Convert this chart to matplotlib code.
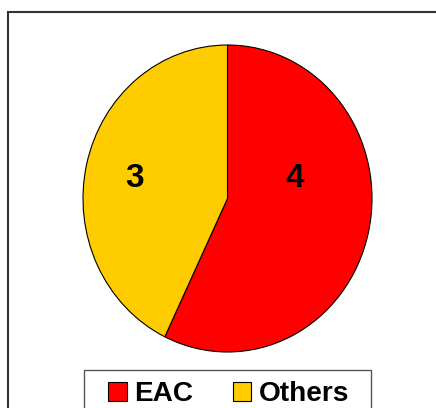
import matplotlib.pyplot as plt
from matplotlib.patches import Rectangle

plt.rcParams['font.family'] = ['Liberation Sans', 'DejaVu Sans']

labels = ['EAC', 'Others']
values = [4, 3]
colors = ['#FF0000', '#FFCC00']
# label anchor points in axes fraction (Excel-style placement)
label_pos = [(0.732, 0.564), (0.178, 0.564)]

W, H = 436, 408
fig = plt.figure(figsize=(W / 100, H / 100), dpi=100)
# outer chart-area border (right/bottom edges fall outside the image)
fig.patches.append(Rectangle((8 / W, -0.1), 1.0, 1 - 12 / H + 0.1,
                             transform=fig.transFigure, fill=False,
                             edgecolor='#333333', linewidth=1.5, zorder=0))
# legend box, cut at the bottom edge like the reference
fig.patches.append(Rectangle((84 / W, -0.1), (371 - 84) / W, 1 - 370 / H + 0.1,
                             transform=fig.transFigure, fill=False,
                             edgecolor='#555555', linewidth=1.0, zorder=0))

ax = fig.add_axes([83 / W, 56 / H, 289 / W, 307 / H])
wedges, _ = ax.pie(values, colors=colors, startangle=90, counterclock=False,
                   wedgeprops=dict(edgecolor='black', linewidth=0.8))
ax.set_aspect('auto')
ax.set_xlim(-1, 1)
ax.set_ylim(-1, 1)

for v, (x, y) in zip(values, label_pos):
    ax.text(x, y, str(v), transform=ax.transAxes, ha='center', va='center',
            fontsize=24, fontweight='bold')

leg = fig.legend(wedges, labels, loc='center left', bbox_to_anchor=(108 / W, 1 - 394 / H),
                 ncol=2, prop=dict(weight='bold', size=20.2), borderaxespad=0,
                 frameon=False, borderpad=0,
                 handlelength=0.67, handleheight=0.67, handletextpad=0.27,
                 columnspacing=1.4)
for h in leg.legend_handles:
    h.set_edgecolor('black')
    h.set_linewidth(0.8)

fig.savefig('out.png', dpi=100)
